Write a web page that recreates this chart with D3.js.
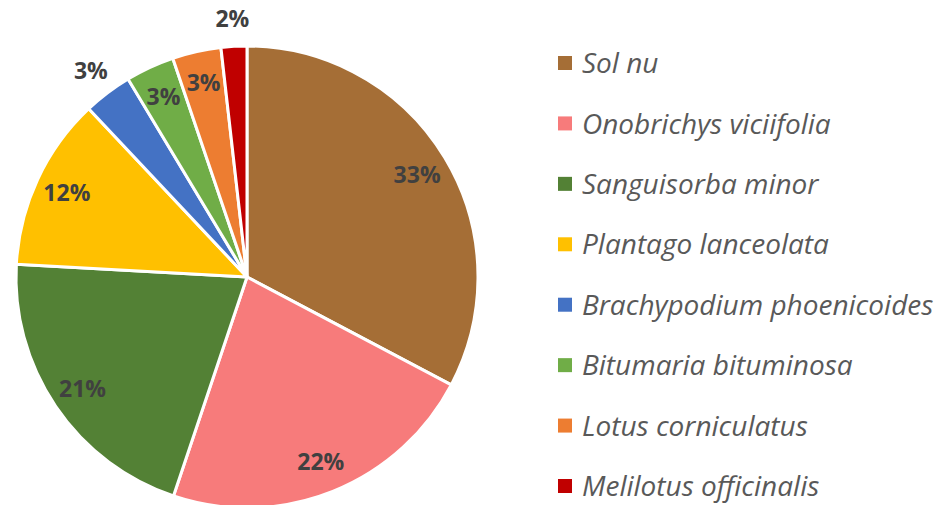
<!DOCTYPE html>
<html>
<head>
<meta charset="utf-8">
<script src="https://cdn.jsdelivr.net/npm/d3@7"></script>
<style>
  body { margin: 0; background: #fff; }
  svg { display: block; }
</style>
</head>
<body>
<script>
var species = ["Sol nu", "Onobrichys viciifolia", "Sanguisorba minor", "Plantago lanceolata",
  "Brachypodium phoenicoides", "Bitumaria bituminosa", "Lotus corniculatus", "Melilotus officinalis"];
var shares = [32.7, 22.4, 20.7, 12.1, 3.4, 3.4, 3.4, 1.8];
var colors = ["#a56e36", "#f77b7b", "#538135", "#ffc000", "#4472c4", "#70ad47", "#ed7d31", "#c00000"];
// labels that sit outside the pie
var outside = [false, false, false, false, true, false, false, true];

var width = 949;
var height = 505;
var cx = 247, cy = 277, radius = 231;

var svg = d3.select("body")
  .append("svg")
  .attr("width", width)
  .attr("height", height);

var pie = d3.pie().sort(null).value(function (d) { return d; });
var arcs = pie(shares);

var arc = d3.arc().innerRadius(0).outerRadius(radius);
var labelArc = d3.arc().innerRadius(radius * 0.86).outerRadius(radius * 0.86);
var outerArc = d3.arc().innerRadius(radius * 1.12).outerRadius(radius * 1.12);

var g = svg.append("g").attr("transform", "translate(" + cx + "," + cy + ")");

g.selectAll("path")
  .data(arcs)
  .enter()
  .append("path")
  .attr("d", arc)
  .style("fill", function (d, i) { return colors[i]; })
  .style("stroke", "#fff")
  .style("stroke-width", 3)
  .style("stroke-linejoin", "round");

var total = d3.sum(shares);
g.selectAll("text.lbl")
  .data(arcs)
  .enter()
  .append("text")
  .attr("class", "lbl")
  .attr("transform", function (d, i) {
    var p = outside[i] ? outerArc.centroid(d) : labelArc.centroid(d);
    return "translate(" + p + ")";
  })
  .attr("text-anchor", "middle")
  .attr("dy", "0.35em")
  .style("font-family", "'Open Sans', sans-serif")
  .style("font-weight", "bold")
  .style("font-size", "23px")
  .style("fill", "#404040")
  .text(function (d) { return Math.round(d.value / total * 100) + "%"; });

// legend
var y = d3.scalePoint().domain(species).range([63, 486]);

var legend = svg.selectAll("g.leg")
  .data(species)
  .enter()
  .append("g")
  .attr("class", "leg")
  .attr("transform", function (d) { return "translate(558," + y(d) + ")"; });

legend.append("rect")
  .attr("x", 0)
  .attr("y", -7)
  .attr("width", 14)
  .attr("height", 14)
  .style("fill", function (d, i) { return colors[i]; });

legend.append("text")
  .attr("x", 24)
  .attr("dy", "0.36em")
  .style("font-family", "'Open Sans', sans-serif")
  .style("font-style", "italic")
  .style("font-size", "28px")
  .style("fill", "#595959")
  .text(function (d) { return d; });
</script>
</body>
</html>
